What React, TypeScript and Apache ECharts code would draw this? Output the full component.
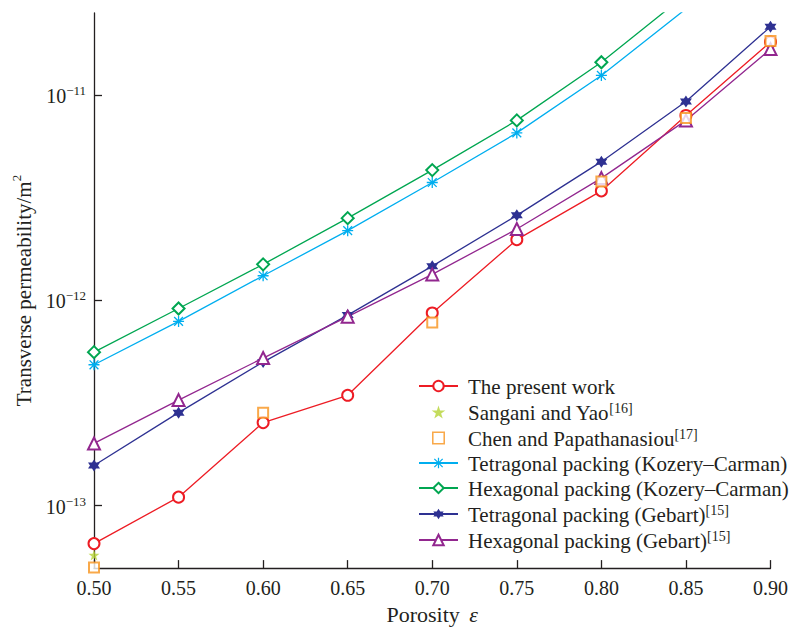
import React, { useEffect, useRef } from "react";
import * as echarts from "echarts";

const porosity = [0.5, 0.55, 0.6, 0.65, 0.7, 0.75, 0.8, 0.85, 0.9];
const presentWork = [6.53e-14, 1.1e-13, 2.54e-13, 3.45e-13, 8.69e-13, 1.98e-12, 3.42e-12, 7.98e-12, 1.82e-11];
const sanganiX = [0.5];
const sanganiYao = [5.74e-14];
const chenX = [0.5, 0.6, 0.7, 0.8, 0.85, 0.9];
const chenPapa = [5.0e-14, 2.84e-13, 7.81e-13, 3.8e-12, 7.76e-12, 1.84e-11];
const tetraKC = [4.86e-13, 7.91e-13, 1.32e-12, 2.19e-12, 3.76e-12, 6.56e-12, 1.25e-11, 2.64e-11, 6.9e-11];
const hexKC = [5.6e-13, 9.14e-13, 1.5e-12, 2.52e-12, 4.32e-12, 7.55e-12, 1.45e-11, 3.1e-11, 8.0e-11];
const tetraGebart = [1.57e-13, 2.84e-13, 5.01e-13, 8.49e-13, 1.47e-12, 2.6e-12, 4.75e-12, 9.33e-12, 2.16e-11];
const hexGebart = [2.01e-13, 3.27e-13, 5.24e-13, 8.34e-13, 1.34e-12, 2.23e-12, 3.95e-12, 7.55e-12, 1.68e-11];
const yTicks = [1e-13, 1e-12, 1e-11];

const seriesNames = [
  "The present work",
  "Sangani and Yao",
  "Chen and Papathanasiou",
  "Tetragonal packing (Kozery–Carman)",
  "Hexagonal packing (Kozery–Carman)",
  "Tetragonal packing (Gebart)",
  "Hexagonal packing (Gebart)",
];
const seriesRefs = ["", "[16]", "[17]", "", "", "[15]", "[15]"];

const FONT = "Liberation Serif";
const TXT = "#231f20";

const STAR5 =
  "path://M50 0 L61.23 34.55 L97.55 34.55 L68.17 55.9 L79.39 90.45 L50 69.1 L20.61 90.45 L31.83 55.9 L2.45 34.55 L38.77 34.55 Z";
const HEXAGRAM =
  "path://M50 0 L64.43 25 L93.3 25 L78.87 50 L93.3 75 L64.43 75 L50 100 L35.57 75 L6.7 75 L21.13 50 L6.7 25 L35.57 25 Z";
const ASTERISK =
  "path://M44 0 L56 0 L56 100 L44 100 Z M0 44 L100 44 L100 56 L0 56 Z M14.24 5.76 L94.24 85.76 L85.76 94.24 L5.76 14.24 Z M85.76 5.76 L94.24 14.24 L14.24 94.24 L5.76 85.76 Z";
const HOLLOW_SQUARE = "path://M0 0 L100 0 L100 100 L0 100 Z M12 12 L12 88 L88 88 L88 12 Z";

function pairs(xs: number[], ys: number[]) {
  return xs.map((x, i) => [x, ys[i]]);
}

export default function App() {
  const ref = useRef<HTMLDivElement>(null);
  useEffect(() => {
    document.body.style.margin = "0";
    const chart = echarts.init(ref.current!, null, { renderer: "svg" });
    const lineSeries = (name: string, ys: number[], color: string, symbol: string, size: number, filled = false) => ({
      name,
      type: "line",
      data: pairs(porosity, ys),
      symbol,
      symbolSize: size,
      showAllSymbol: true,
      lineStyle: { color, width: 1.3 },
      itemStyle: filled ? { color, borderWidth: 0 } : { color, borderColor: color, borderWidth: 1.3 },
      clip: true,
    });
    chart.setOption({
      animation: false,
      backgroundColor: "#ffffff",
      grid: { left: 94, right: 19, top: 13, bottom: 57 },
      legend: {
        orient: "vertical",
        left: 418,
        top: 376,
        padding: 0,
        itemWidth: 39,
        itemHeight: 13,
        itemGap: 4,
        data: seriesNames.map((n, i) =>
          i === 2
            ? { name: n, icon: HOLLOW_SQUARE, itemStyle: { color: "#f7941d", borderWidth: 0 } }
            : { name: n }
        ),
        formatter: (name: string) => {
          const i = seriesNames.indexOf(name);
          const r = seriesRefs[i];
          return r ? `{n|${name}}{s|${r}}` : `{n|${name}}`;
        },
        textStyle: {
          fontFamily: FONT,
          fontSize: 21,
          color: TXT,
          padding: [0, 0, 0, 5],
          rich: {
            n: { fontFamily: FONT, fontSize: 21, color: TXT, lineHeight: 22, verticalAlign: "bottom" },
            s: { fontFamily: FONT, fontSize: 14, color: TXT, lineHeight: 14, verticalAlign: "top" },
          },
        },
      },
      xAxis: {
        type: "value",
        min: 0.5,
        max: 0.9,
        interval: 0.05,
        name: "{a|Porosity }{e|ε}",
        nameLocation: "middle",
        nameGap: 27,
        nameTextStyle: {
          rich: {
            a: { fontFamily: FONT, fontSize: 22, color: TXT },
            e: { fontFamily: FONT, fontSize: 22, color: TXT, fontStyle: "italic", padding: [0, 0, 0, 4] },
          },
        },
        axisLine: { lineStyle: { color: TXT, width: 1.3 } },
        axisTick: { inside: true, length: 8, lineStyle: { color: TXT, width: 1.3 } },
        axisLabel: {
          fontFamily: FONT,
          fontSize: 20,
          color: TXT,
          margin: 10,
          formatter: (v: number) => v.toFixed(2),
        },
        splitLine: { show: false },
      },
      yAxis: {
        type: "log",
        logBase: 10,
        min: 4.96e-14,
        max: 2.52e-11,
        name: "{a|Transverse permeability/m}{s|2}",
        nameLocation: "middle",
        nameGap: 60,
        nameTextStyle: {
          rich: {
            a: { fontFamily: FONT, fontSize: 21, color: TXT, lineHeight: 24, verticalAlign: "bottom" },
            s: { fontFamily: FONT, fontSize: 13, color: TXT, lineHeight: 14, verticalAlign: "top" },
          },
        },
        axisLine: { show: true, lineStyle: { color: TXT, width: 1.3 } },
        axisTick: { inside: true, length: 8, lineStyle: { color: TXT, width: 1.3 }, customValues: yTicks },
        axisLabel: {
          customValues: yTicks,
          margin: 8,
          formatter: (v: number) => {
            const e = Math.round(Math.log10(v));
            return `{b|10}{s|−${-e}}`;
          },
          rich: {
            b: { fontFamily: FONT, fontSize: 20, color: TXT, lineHeight: 22, verticalAlign: "bottom" },
            s: { fontFamily: FONT, fontSize: 13, color: TXT, lineHeight: 14, verticalAlign: "top" },
          },
        },
        splitLine: { show: false },
        minorTick: { show: false },
      },
      series: [
        lineSeries(seriesNames[0], presentWork, "#ed1c24", "emptyCircle", 11),
        {
          name: seriesNames[1],
          type: "scatter",
          data: pairs(sanganiX, sanganiYao),
          symbol: STAR5,
          symbolSize: 11,
          itemStyle: { color: "#b5d334" },
        },
        {
          name: seriesNames[2],
          type: "scatter",
          data: pairs(chenX, chenPapa),
          symbol: "emptyRect",
          symbolSize: 10,
          itemStyle: { color: "#f7941d", borderColor: "#f7941d", borderWidth: 1.4 },
          z: 4,
        },
        lineSeries(seriesNames[3], tetraKC, "#00aeef", ASTERISK, 11, true),
        lineSeries(seriesNames[4], hexKC, "#00a651", "emptyDiamond", 12),
        lineSeries(seriesNames[5], tetraGebart, "#2e3192", HEXAGRAM, 12, true),
        lineSeries(seriesNames[6], hexGebart, "#92278f", "emptyTriangle", 12),
      ],
    });
    return () => chart.dispose();
  }, []);
  return <div ref={ref} style={{ width: 791, height: 630 }} />;
}
